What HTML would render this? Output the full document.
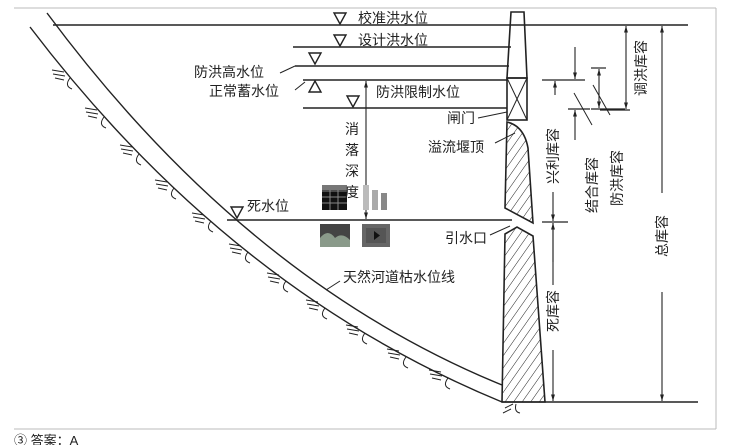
<!DOCTYPE html>
<html><head><meta charset="utf-8"><style>
html,body{margin:0;padding:0;background:#fff;}
svg{display:block;}
text{font-family:"Liberation Sans","Noto Sans CJK SC",sans-serif;font-size:14px;fill:#222;}
</style></head><body>
<svg width="735" height="445" viewBox="0 0 735 445" xmlns="http://www.w3.org/2000/svg">
<defs>
<pattern id="h" width="7" height="7" patternUnits="userSpaceOnUse" patternTransform="rotate(35)">
<line x1="0" y1="0" x2="0" y2="7" stroke="#222" stroke-width="1"/>
</pattern>
<marker id="a" viewBox="0 0 10 10" refX="10" refY="5" markerWidth="6" markerHeight="8" orient="auto-start-reverse">
<path d="M0,2 L10,5 L0,8 Z" fill="#222"/>
</marker>
</defs>
<line x1="14" y1="8" x2="716" y2="8" stroke="#bbb"/>
<line x1="716" y1="8" x2="716" y2="429" stroke="#bbb"/>
<line x1="14" y1="429" x2="716" y2="429" stroke="#bbb"/>
<text x="14" y="445" style="font-size:13px">③ 答案：A</text>

<g stroke="#222" fill="none" stroke-width="1.4">
<path d="M47,13 Q245,280 502,385"/>
<path d="M30,27 Q230,290 502,402"/>
<line x1="53" y1="25" x2="688" y2="25"/>
<line x1="293" y1="47" x2="511" y2="47"/>
<line x1="295" y1="66" x2="509" y2="66"/>
<line x1="303" y1="80" x2="507" y2="80"/>
<line x1="303" y1="108" x2="507" y2="108"/>
<line x1="227" y1="220" x2="512" y2="220"/>
<line x1="502" y1="402" x2="698" y2="402"/>
<line x1="280" y1="73" x2="295" y2="66" stroke-width="1"/>
<line x1="295" y1="90" x2="305" y2="82" stroke-width="1"/>
<line x1="478" y1="118" x2="507" y2="112" stroke-width="1"/>
<line x1="495" y1="143" x2="515" y2="133" stroke-width="1"/>
<line x1="490" y1="235" x2="510" y2="226" stroke-width="1"/>
<line x1="326" y1="290" x2="340" y2="281" stroke-width="1"/>
<path d="M334,13 L346,13 L340,24 Z"/>
<path d="M334,35 L346,35 L340,46 Z"/>
<path d="M309,53 L321,53 L315,64 Z"/>
<path d="M309,92 L321,92 L315,81 Z"/>
<path d="M347,96 L359,96 L353,107 Z"/>
<path d="M231,207 L243,207 L237,218 Z"/>
<path d="M511,12 L524,12 L527,78 L507,78 Z" stroke-width="1.6"/>
<rect x="507" y="78" width="20" height="42" stroke-width="1.6"/>
<line x1="507" y1="78" x2="527" y2="120" stroke-width="1"/>
<line x1="527" y1="78" x2="507" y2="120" stroke-width="1"/>
<path d="M507,122 Q524,126 528,148 L533,223 L505,208 Z" fill="url(#h)" stroke-width="1.6"/>
<path d="M505,234 L517,227 L533,236 L545,402 L502,402 Z" fill="url(#h)" stroke-width="1.6"/>
<path d="M505,408 l8,-4 M503,413 l8,-4 M516,404 q-2,8 4,9" stroke-width="1"/>
<line x1="366" y1="81" x2="366" y2="219" stroke-width="1.1" marker-start="url(#a)" marker-end="url(#a)"/>
<line x1="626" y1="26" x2="626" y2="109" stroke-width="1.1" marker-start="url(#a)" marker-end="url(#a)"/>
<line x1="600" y1="110" x2="630" y2="110" stroke-width="1.2"/>
<line x1="662" y1="26" x2="662" y2="193" stroke-width="1.1" marker-start="url(#a)"/>
<line x1="662" y1="292" x2="662" y2="401" stroke-width="1.1" marker-end="url(#a)"/>
<line x1="542" y1="80" x2="585" y2="80" stroke-width="1.2"/>
<line x1="575" y1="47" x2="575" y2="79" stroke-width="1.1" marker-end="url(#a)"/>
<line x1="555" y1="95" x2="555" y2="81" stroke-width="1.1" marker-end="url(#a)"/>
<line x1="568" y1="109" x2="590" y2="109" stroke-width="1.2"/>
<line x1="575" y1="140" x2="575" y2="110" stroke-width="1.1" marker-end="url(#a)"/>
<line x1="574" y1="93" x2="592" y2="125" stroke-width="1"/>
<line x1="591" y1="68" x2="606" y2="68" stroke-width="1.2"/>
<line x1="591" y1="109" x2="625" y2="109" stroke-width="1.2"/>
<line x1="599" y1="69" x2="599" y2="108" stroke-width="1.1" marker-start="url(#a)" marker-end="url(#a)"/>
<line x1="593" y1="85" x2="610" y2="115" stroke-width="1"/>
<line x1="553" y1="192" x2="553" y2="221" stroke-width="1.1" marker-end="url(#a)"/>
<line x1="542" y1="222" x2="568" y2="222" stroke-width="1.2"/>
<line x1="553" y1="262" x2="553" y2="223" stroke-width="1.1" marker-end="url(#a)"/>
<line x1="553" y1="223" x2="553" y2="285" stroke-width="1.1"/>
<line x1="553" y1="350" x2="553" y2="401" stroke-width="1.1" marker-end="url(#a)"/>
<g stroke-width="1">
<path d="M52,70 l12,2 M53,74 l12,2 M55,78 l9,2 M70,78 q-6,8 2,11"/>
<path d="M85,108 l12,2 M86,112 l12,2 M88,116 l9,2 M104,117 q-6,8 2,11"/>
<path d="M120,145 l12,2 M121,149 l12,2 M123,153 l9,2 M139,154 q-6,8 2,11"/>
<path d="M155,180 l12,2 M156,184 l12,2 M158,188 l9,2 M174,188 q-6,8 2,11"/>
<path d="M192,213 l12,2 M193,217 l12,2 M195,221 l9,2 M211,221 q-6,8 2,11"/>
<path d="M229,244 l12,2 M230,248 l12,2 M232,252 l9,2 M248,252 q-6,8 2,11"/>
<path d="M267,273 l12,2 M268,277 l12,2 M270,281 l9,2 M286,281 q-6,8 2,11"/>
<path d="M306,300 l12,2 M307,304 l12,2 M309,308 l9,2 M325,308 q-6,8 2,11"/>
<path d="M346,325 l12,2 M347,329 l12,2 M349,333 l9,2 M365,333 q-6,8 2,11"/>
<path d="M387,349 l12,2 M388,353 l12,2 M390,357 l9,2 M406,357 q-6,8 2,11"/>
<path d="M429,370 l12,2 M430,374 l12,2 M432,378 l9,2 M448,378 q-6,8 2,11"/>
</g>
</g>
<rect x="322" y="185" width="25" height="25" fill="#111"/>
<g stroke="#888" stroke-width="1"><line x1="322" y1="191" x2="347" y2="191"/><line x1="322" y1="197" x2="347" y2="197"/><line x1="322" y1="203" x2="347" y2="203"/><line x1="330" y1="185" x2="330" y2="210"/><line x1="338" y1="185" x2="338" y2="210"/></g>
<rect x="322" y="185" width="25" height="5" fill="#777"/>
<rect x="363" y="185" width="6" height="25" fill="#bbb"/>
<rect x="372" y="190" width="6" height="20" fill="#aaa"/>
<rect x="381" y="193" width="6" height="17" fill="#888"/>
<rect x="320" y="224" width="30" height="23" fill="#444"/>
<path d="M320,247 L320,238 Q328,228 335,238 Q342,232 350,240 L350,247 Z" fill="#8a9a8a"/>
<rect x="362" y="224" width="28" height="23" fill="#666"/>
<rect x="366" y="228" width="20" height="15" fill="#555"/>
<path d="M374,231 L380,235.5 L374,240 Z" fill="#111"/>
<text x="358" y="23">校准洪水位</text>
<text x="358" y="45">设计洪水位</text>
<text x="194" y="77">防洪高水位</text>
<text x="209" y="96">正常蓄水位</text>
<text x="376" y="97">防洪限制水位</text>
<text x="247" y="211">死水位</text>
<text x="345" y="134">消</text>
<text x="345" y="155">落</text>
<text x="345" y="176">深</text>
<text x="345" y="197">度</text>
<text x="447" y="123">闸门</text>
<text x="428" y="152">溢流堰顶</text>
<text x="445" y="243">引水口</text>
<text x="343" y="282">天然河道枯水位线</text>
<g>
<text transform="translate(558,128) rotate(-90)" text-anchor="end">兴利库容</text>
<text transform="translate(597,157) rotate(-90)" text-anchor="end">结合库容</text>
<text transform="translate(622,150) rotate(-90)" text-anchor="end">防洪库容</text>
<text transform="translate(646,40) rotate(-90)" text-anchor="end">调洪库容</text>
<text transform="translate(667,215) rotate(-90)" text-anchor="end">总库容</text>
<text transform="translate(558,290) rotate(-90)" text-anchor="end">死库容</text>
</g>
</svg>
</body></html>
